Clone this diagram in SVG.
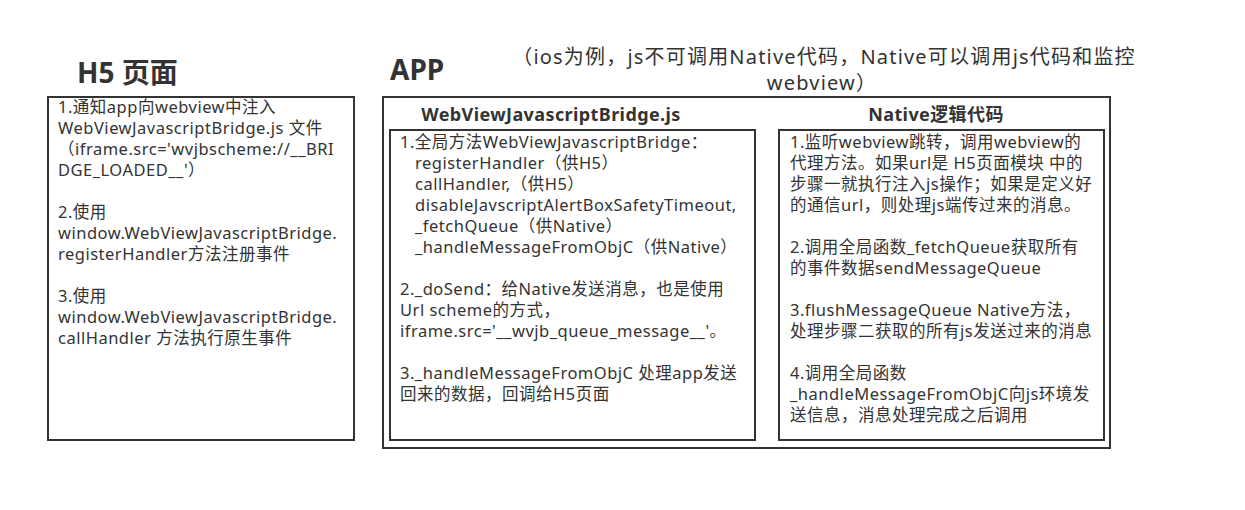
<svg xmlns="http://www.w3.org/2000/svg" width="1245" height="510" viewBox="0 0 1245 510">
<style>
.box{fill:none;stroke:#333;stroke-width:2}
text{font-family:"Noto Sans","Noto Sans CJK SC",sans-serif;fill:#333}
.t{font-size:16.5px;letter-spacing:0.5px}
.h1{font-size:28px;font-weight:bold}
.h2{font-size:18px;font-weight:bold;letter-spacing:0.4px}
.sub{font-size:20px;letter-spacing:1.2px}
</style>
<rect width="1245" height="510" fill="#fff"/>
<g id="h5">
<text class="h1" x="77" y="83">H5 页面</text>
<rect class="box" x="48" y="97" width="306" height="343"/>
<text class="t">
<tspan x="58" y="113">1.通知app向webview中注入</tspan>
<tspan x="58" y="134">WebViewJavascriptBridge.js 文件</tspan>
<tspan x="58" y="155">（iframe.src='wvjbscheme://__BRI</tspan>
<tspan x="58" y="176">DGE_LOADED__'）</tspan>
<tspan x="58" y="218">2.使用</tspan>
<tspan x="58" y="239">window.WebViewJavascriptBridge.</tspan>
<tspan x="58" y="260">registerHandler方法注册事件</tspan>
<tspan x="58" y="302">3.使用</tspan>
<tspan x="58" y="323">window.WebViewJavascriptBridge.</tspan>
<tspan x="58" y="344">callHandler 方法执行原生事件</tspan>
</text>
</g>
<g id="app">
<text class="h1" x="390" y="80">APP</text>
<text class="sub" text-anchor="middle"><tspan x="824" y="64">（ios为例，js不可调用Native代码，Native可以调用js代码和监控</tspan><tspan x="822" y="90">webview）</tspan></text>
<rect class="box" x="383" y="97" width="727" height="351"/>
</g>
<g id="bridge">
<text class="h2" x="551" y="121" text-anchor="middle">WebViewJavascriptBridge.js</text>
<rect class="box" x="390" y="130" width="365" height="310"/>
<text class="t">
<tspan x="400" y="148">1.全局方法WebViewJavascriptBridge：</tspan>
<tspan x="415" y="169">registerHandler（供H5）</tspan>
<tspan x="415" y="190">callHandler,（供H5）</tspan>
<tspan x="415" y="211">disableJavscriptAlertBoxSafetyTimeout,</tspan>
<tspan x="415" y="232">_fetchQueue（供Native）</tspan>
<tspan x="415" y="253">_handleMessageFromObjC（供Native）</tspan>
<tspan x="400" y="295">2._doSend：给Native发送消息，也是使用</tspan>
<tspan x="400" y="316">Url scheme的方式，</tspan>
<tspan x="400" y="337">iframe.src='__wvjb_queue_message__'。</tspan>
<tspan x="400" y="379">3._handleMessageFromObjC 处理app发送</tspan>
<tspan x="400" y="400">回来的数据，回调给H5页面</tspan>
</text>
</g>
<g id="native">
<text class="h2" x="936" y="121" text-anchor="middle">Native逻辑代码</text>
<rect class="box" x="779" y="130" width="325" height="310"/>
<text class="t">
<tspan x="790" y="148">1.监听webview跳转，调用webview的</tspan>
<tspan x="790" y="169">代理方法。如果url是 H5页面模块 中的</tspan>
<tspan x="790" y="190">步骤一就执行注入js操作；如果是定义好</tspan>
<tspan x="790" y="211">的通信url，则处理js端传过来的消息。</tspan>
<tspan x="790" y="253">2.调用全局函数_fetchQueue获取所有</tspan>
<tspan x="790" y="274">的事件数据sendMessageQueue</tspan>
<tspan x="790" y="316">3.flushMessageQueue Native方法，</tspan>
<tspan x="790" y="337">处理步骤二获取的所有js发送过来的消息</tspan>
<tspan x="790" y="379">4.调用全局函数</tspan>
<tspan x="790" y="400">_handleMessageFromObjC向js环境发</tspan>
<tspan x="790" y="421">送信息，消息处理完成之后调用</tspan>
</text>
</g>
<g id="connectors"/>
</svg>
